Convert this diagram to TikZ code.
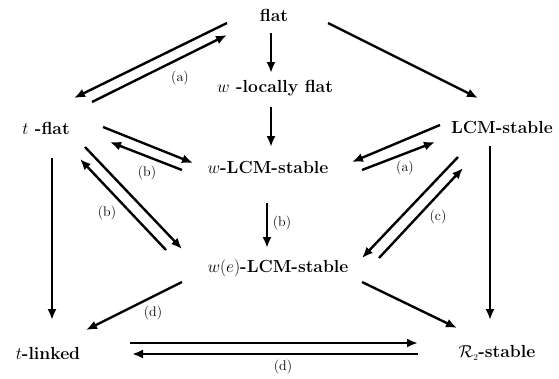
\documentclass[tikz,border=0pt]{standalone}
\usepackage{amsmath, amssymb}
\usepackage{tikz}
\usetikzlibrary{arrows.meta, calc}

\begin{document}
\begin{tikzpicture}[x=1pt, y=-1pt, font=\fontsize{17.5}{20}\selectfont\bfseries,
    imp/.style={-{Latex[length=11pt, width=9pt]}, line width=2.4pt},
    lab/.style={font=\fontsize{14}{16}\selectfont\mdseries}]
  \useasboundingbox (0,0) rectangle (559,378);
  % the eight notions, y grows downwards
  \node (flat)   at (274,15)  {flat};
  \node (wlf)    at (275,88)  {$w$ -locally flat};
  \node (tflat)  at (46,128)  {$t$ -flat};
  \node (lcm)    at (502,127) {LCM-stable};
  \node (wlcm)   at (268,167) {$w$-LCM-stable};
  \node (welcm)  at (278,268) {$w(e)$-LCM-stable};
  \node (tlink)  at (48,353)  {$t$-linked};
  \node (rtwo)   at (497,353) {$\mathcal{R}_{\scriptscriptstyle 2}$-stable};
  % plain implications
  \draw[imp] ($(flat)+(-3,18)$) -- ($(wlf)+(-4,-15)$);
  \draw[imp] ($(wlf)+(-4,19)$) -- ($(wlcm)+(3,-20)$);
  \draw[imp] ($(wlcm)+(-1,36)$) -- ($(welcm)+(-11,-20)$);
  \draw[imp] ($(flat)+(54,8)$) -- ($(lcm)+(-24,-29)$);
  \draw[imp] ($(tflat)+(6,30)$) -- ($(tlink)+(4,-33)$);
  \draw[imp] ($(lcm)+(-12,19)$) -- ($(rtwo)+(-7,-33)$);
  \draw[imp] ($(welcm)+(-96,14)$) -- ($(tlink)+(38,-23)$);
  \draw[imp] ($(welcm)+(84,14)$) -- ($(rtwo)+(-40,-25)$);
  % converses, under the condition in brackets
  \draw[imp] ($(flat)+(-47,8)$) -- ($(tflat)+(28,-30)$);
  \draw[imp] ($(tflat)+(46,-26)$) -- ($(flat)+(-47,20)$);
  \draw[imp] ($(tflat)+(57,-1)$) -- ($(wlcm)+(-75,-4)$);
  \draw[imp] ($(wlcm)+(-86,3)$) -- ($(tflat)+(64,14)$);
  \draw[imp] ($(tflat)+(39,19)$) -- ($(welcm)+(-96,-19)$);
  \draw[imp] ($(welcm)+(-112,-18)$) -- ($(tflat)+(34,31)$);
  \draw[imp] ($(lcm)+(-62,-2)$) -- ($(wlcm)+(84,-5)$);
  \draw[imp] ($(wlcm)+(94,3)$) -- ($(lcm)+(-67,15)$);
  \draw[imp] ($(lcm)+(-44,30)$) -- ($(welcm)+(84,-10)$);
  \draw[imp] ($(welcm)+(101,-10)$) -- ($(lcm)+(-39,41)$);
  \draw[imp] ($(tlink)+(82,-10)$) -- ($(rtwo)+(-79,-10)$);
  \draw[imp] ($(rtwo)+(-79,1)$) -- ($(tlink)+(84,1)$);
  % conditions
  \node[lab] (ca)  at (180,78)  {(a)};
  \node[lab] (cb1) at (147,173) {(b)};
  \node[lab] (cb2) at (107,213) {(b)};
  \node[lab] (cb3) at (282,223) {(b)};
  \node[lab] (ca2) at (405,168) {(a)};
  \node[lab] (cc)  at (438,217) {(c)};
  \node[lab] (cd1) at (153,313) {(d)};
  \node[lab] (cd2) at (283,367) {(d)};
\end{tikzpicture}
\end{document}
